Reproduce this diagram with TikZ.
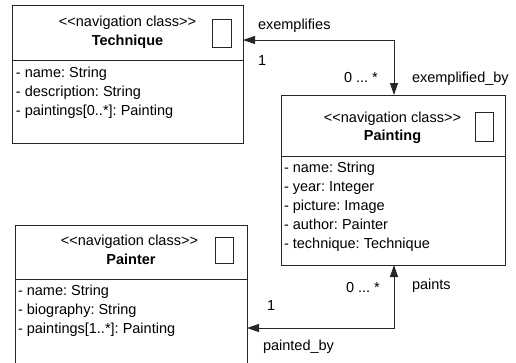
\documentclass[tikz,border=0pt]{standalone}
\usepackage{fontspec}
\setmainfont{Liberation Sans}
\usetikzlibrary{arrows.meta}
\frenchspacing

\begin{document}
\begin{tikzpicture}[x=1pt,y=-1pt,
  every node/.style={font=\fontsize{14.5}{18.7}\selectfont, inner sep=0pt, outer sep=0pt},
  classbox/.style={draw=black!85, line width=0.9pt, rectangle, anchor=north west},
  iconbox/.style={draw=black!85, line width=0.8pt, rectangle, anchor=north west},
  divider/.style={draw=black!85, line width=0.9pt},
  stereo/.style={anchor=mid},
  cname/.style={anchor=mid, font=\fontsize{14.5}{18.7}\selectfont\bfseries},
  attr/.style={anchor=mid west},
  role/.style={anchor=mid west},
  assoc/.style={draw=black!85, line width=0.9pt, {Triangle[length=12pt,width=8pt]}-{Triangle[length=12pt,width=8pt]}}
]
\useasboundingbox (0,0) rectangle (516,362);
\clip (0,0) rectangle (516,362);

% stereotype text, with the angle brackets kept apart so they do not merge into guillemets
\def\navclass{<{}<navigation class>{}>}

% ---- Technique ----
\node[classbox, minimum width=231pt, minimum height=138pt] (tech) at (12,5) {};
\draw[divider] (12,60) coordinate (techdl) -- (243,60) coordinate (techdr);
\node[iconbox, minimum width=19pt, minimum height=28pt] (techicon) at (212,19) {};
\node[stereo] (techst) at (127.5,24) {\navclass};
\node[cname] (techname) at (127.5,43) {Technique};
\node[attr] (techa1) at (16,75) {- name: String};
\node[attr] (techa2) at (16,94) {- description: String};
\node[attr] (techa3) at (16,112.5) {- paintings[0..*]: Painting};

% ---- Painting ----
\node[classbox, minimum width=224pt, minimum height=170pt] (paint) at (281,95) {};
\draw[divider] (281,156) coordinate (paintdl) -- (505,156) coordinate (paintdr);
\node[iconbox, minimum width=18pt, minimum height=29pt] (painticon) at (475,112) {};
\node[stereo] (paintst) at (392.5,120) {\navclass};
\node[cname] (paintname) at (392.5,138) {Painting};
\node[attr] (painta1) at (284,170) {- name: String};
\node[attr] (painta2) at (284,189) {- year: Integer};
\node[attr] (painta3) at (284,208) {- picture: Image};
\node[attr] (painta4) at (284,227) {- author: Painter};
\node[attr] (painta5) at (284,246) {- technique: Technique};

% ---- Painter ----
\node[classbox, minimum width=232pt, minimum height=150pt] (painter) at (15,225) {};
\draw[divider] (15,279) coordinate (painterdl) -- (247,279) coordinate (painterdr);
\node[iconbox, minimum width=18pt, minimum height=26pt] (paintericon) at (215,237) {};
\node[stereo] (painterst) at (129.5,243) {\navclass};
\node[cname] (paintername) at (131,262) {Painter};
\node[attr] (paintera1) at (18,293) {- name: String};
\node[attr] (paintera2) at (18,312) {- biography: String};
\node[attr] (paintera3) at (18,331) {- paintings[1..*]: Painting};

% ---- associations ----
\coordinate (bend1) at (394,40);
\coordinate (bend2) at (394,328);
\draw[assoc] (paint.north -| bend1) -- (bend1) -- (bend1 -| tech.east);
\draw[assoc] (paint.south -| bend2) -- (bend2) -- (bend2 -| painter.east);

% ---- association labels ----
\node[role] (l1) at (258,27) {exemplifies};
\node[role] (l2) at (258,63) {1};
\node[role] (l3) at (344,79.5) {0 ... *};
\node[role] (l4) at (412,79.5) {exemplified\_by};
\node[role] (l5) at (346,289.5) {0 ... *};
\node[role] (l6) at (412,287) {paints};
\node[role] (l7) at (267,308) {1};
\node[role] (l8) at (263,348) {painted\_by};
\end{tikzpicture}
\end{document}
